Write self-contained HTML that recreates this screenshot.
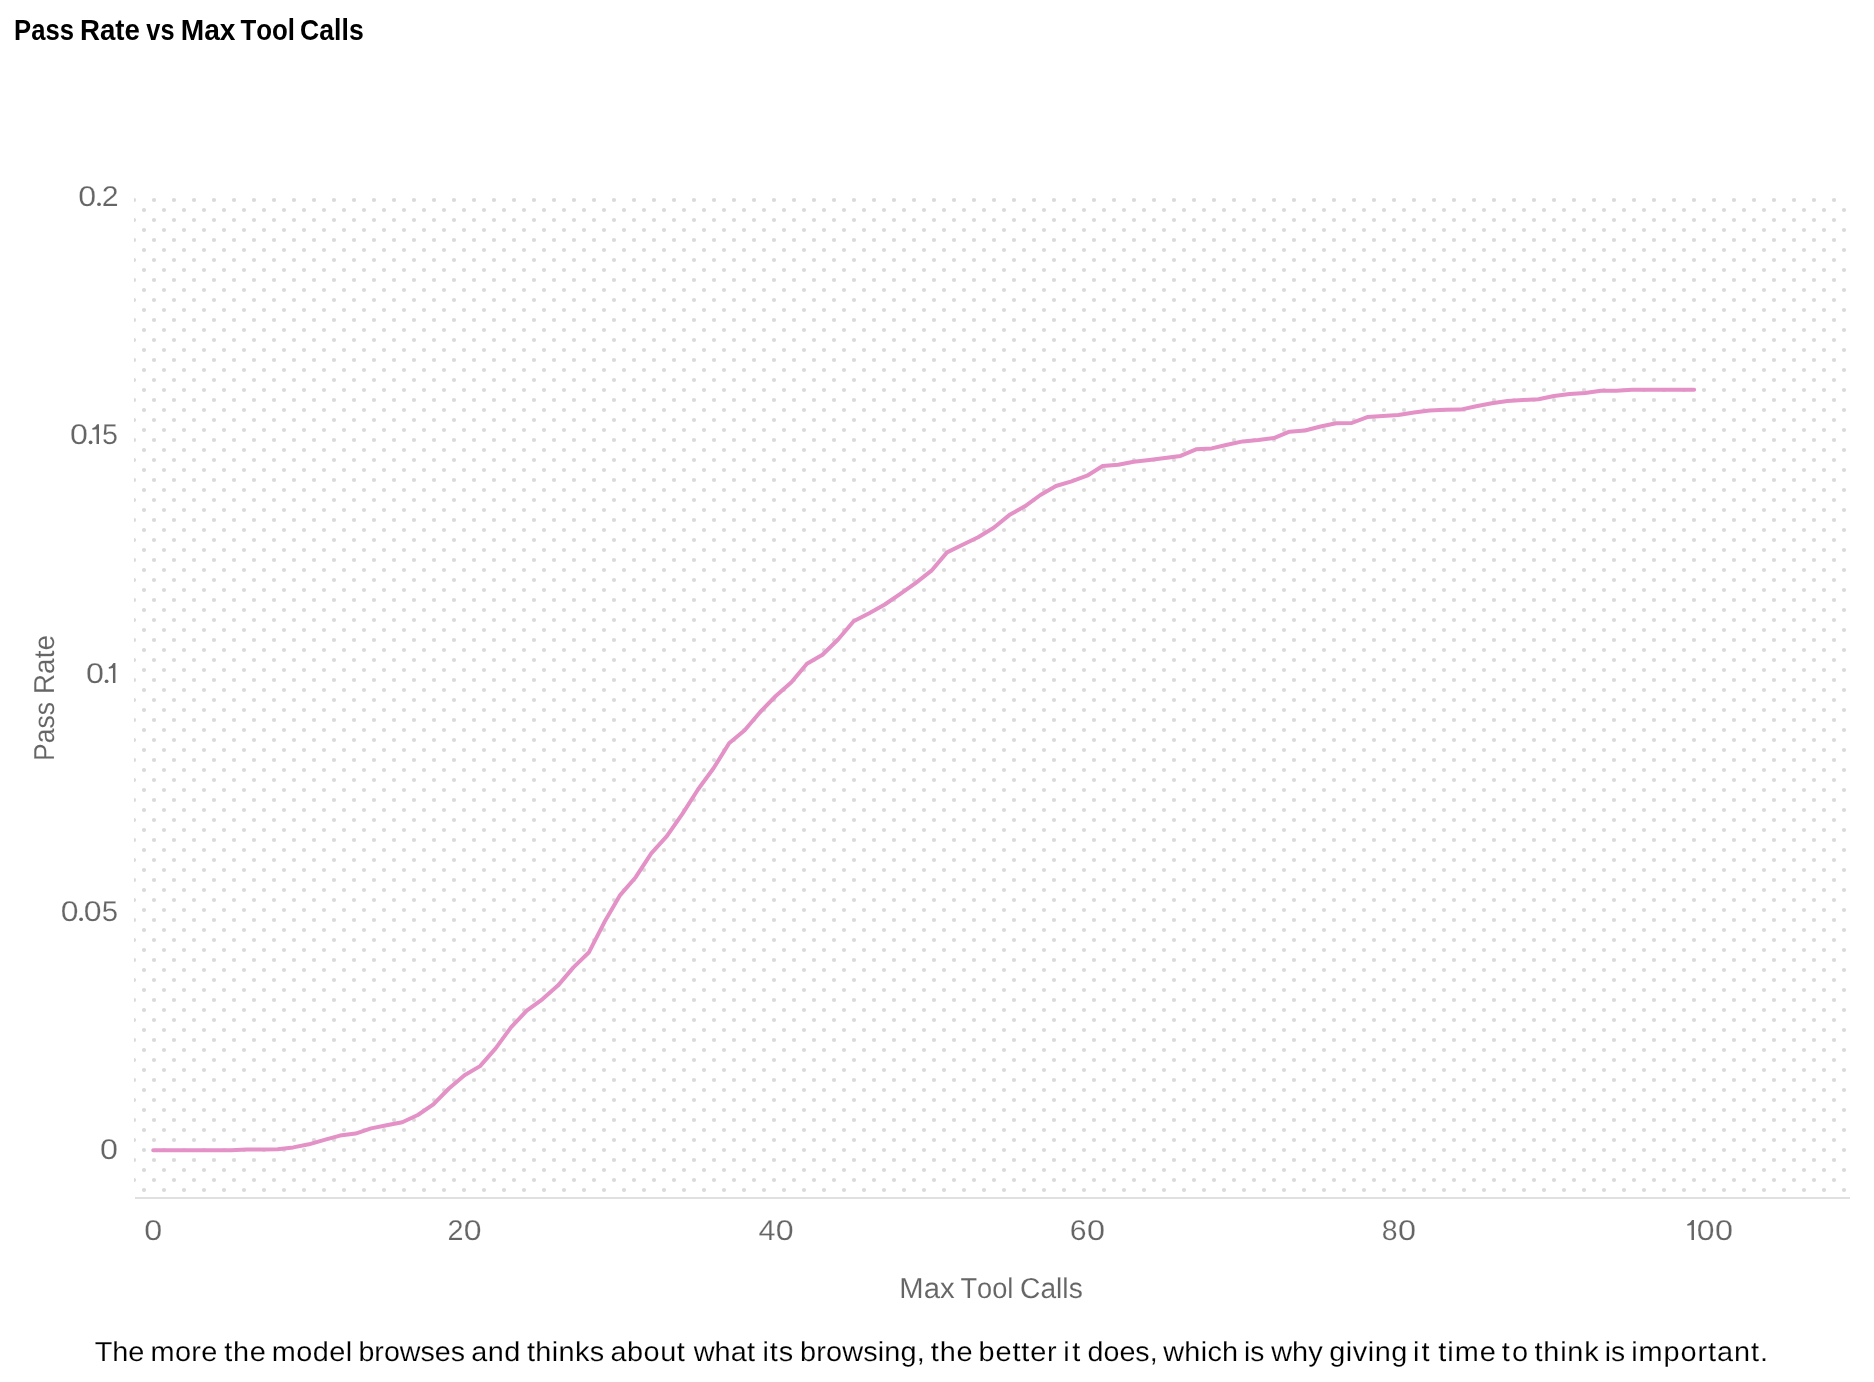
<!DOCTYPE html>
<html lang="en">
<head>
<meta charset="utf-8">
<title>Pass Rate vs Max Tool Calls</title>
<style>
html,body{margin:0;padding:0;background:#ffffff;}
body{width:1874px;height:1382px;overflow:hidden;position:relative;font-family:"Liberation Sans",sans-serif;}
svg{position:absolute;left:0;top:0;display:block;will-change:transform;}
text{font-family:"Liberation Sans",sans-serif;font-kerning:none;font-variant-ligatures:none;white-space:pre;}
.title{font-size:28.7px;font-weight:700;fill:#000000;}
.tick{font-size:28.6px;fill:#656565;stroke:#ffffff;stroke-width:0.2px;stroke-linejoin:round;text-rendering:geometricPrecision;}
.axis{font-size:28.8px;fill:#656565;stroke:#ffffff;stroke-width:0.1px;stroke-linejoin:round;text-rendering:geometricPrecision;}
.caption{font-size:27.5px;fill:#000000;stroke:#ffffff;stroke-width:0.14px;stroke-linejoin:round;text-rendering:geometricPrecision;}
</style>
</head>
<body>
<svg width="1874" height="1382" viewBox="0 0 1874 1382">
<defs>
<pattern id="dots" x="134" y="200" width="20" height="20" patternUnits="userSpaceOnUse">
<circle cx="0" cy="0" r="2.1" fill="#dadada"/>
<circle cx="20" cy="0" r="2.1" fill="#dadada"/>
<circle cx="0" cy="20" r="2.1" fill="#dadada"/>
<circle cx="20" cy="20" r="2.1" fill="#dadada"/>
<circle cx="10" cy="10" r="2.1" fill="#dadada"/>
</pattern>
</defs>
<g id="title">
<text transform="translate(15.80,40.00) scale(0.8932,1)" x="-1.92" y="0" class="title">Pass</text>
<text transform="translate(81.80,40.00) scale(0.9645,1)" x="-1.92" y="0" class="title">Rate</text>
<text transform="translate(146.40,40.00) scale(0.8814,1)" x="-0.11" y="0" class="title">vs</text>
<text transform="translate(182.60,40.00) scale(0.9814,1)" x="-1.92" y="0" class="title">Max</text>
<text transform="translate(240.70,40.00) scale(0.9001,1)" x="-0.32" y="0" class="title">Tool</text>
<text transform="translate(301.20,40.00) scale(0.9269,1)" x="-1.18" y="0" class="title">Calls</text>
</g>
<rect x="134" y="197" width="1716" height="1000" fill="url(#dots)"/>
<rect x="135" y="1197" width="1715" height="2" fill="#e0e0e0"/>
<g id="ticks">
<g role="img" aria-label="0.2">
<text transform="translate(79.55,206.00) scale(1.1264,1)" x="-1.12" y="0" class="tick">0</text>
<circle cx="99.00" cy="204.25" r="1.85" fill="#656565"/>
<text transform="translate(103.20,206.00) scale(1.0592,1)" x="-1.44" y="0" class="tick">2</text>
</g>
<g role="img" aria-label="0.15">
<text transform="translate(71.20,444.10) scale(1.1264,1)" x="-1.12" y="0" class="tick">0</text>
<circle cx="90.60" cy="442.35" r="1.85" fill="#656565"/>
<path transform="translate(99.10,444.10)" fill="#656565" d="M-2.0,-19.9 L-0.1,-19.9 L-0.1,0 L-2.55,0 L-2.55,-14.9 L-6.6,-14.35 L-6.85,-15.8 Q-3.4,-16.7 -2.0,-19.9 Z"/>
<text transform="translate(103.20,444.10) scale(1.0030,1)" x="-1.15" y="0" class="tick">5</text>
</g>
<g role="img" aria-label="0.1">
<text transform="translate(87.30,683.00) scale(1.1301,1)" x="-1.12" y="0" class="tick">0</text>
<circle cx="106.60" cy="681.25" r="1.85" fill="#656565"/>
<path transform="translate(115.50,683.00)" fill="#656565" d="M-2.0,-19.9 L-0.1,-19.9 L-0.1,0 L-2.55,0 L-2.55,-14.9 L-6.6,-14.35 L-6.85,-15.8 Q-3.4,-16.7 -2.0,-19.9 Z"/>
</g>
<g role="img" aria-label="0.05">
<text transform="translate(61.95,921.00) scale(1.1155,1)" x="-1.12" y="0" class="tick">0</text>
<circle cx="81.10" cy="919.25" r="1.85" fill="#656565"/>
<text transform="translate(85.00,921.00) scale(1.1191,1)" x="-1.12" y="0" class="tick">0</text>
<text transform="translate(102.90,921.00) scale(1.0251,1)" x="-1.15" y="0" class="tick">5</text>
</g>
<g role="img" aria-label="0">
<text transform="translate(101.30,1159.00) scale(1.1301,1)" x="-1.12" y="0" class="tick">0</text>
</g>
<g role="img" aria-label="0">
<text transform="translate(145.50,1240.00) scale(1.1301,1)" x="-1.12" y="0" class="tick">0</text>
</g>
<g role="img" aria-label="20">
<text transform="translate(448.90,1240.00) scale(1.0054,1)" x="-1.44" y="0" class="tick">2</text>
<text transform="translate(464.90,1240.00) scale(1.1191,1)" x="-1.12" y="0" class="tick">0</text>
</g>
<g role="img" aria-label="40">
<text transform="translate(759.10,1240.00) scale(1.0686,1)" x="-0.66" y="0" class="tick">4</text>
<text transform="translate(777.00,1240.00) scale(1.1264,1)" x="-1.12" y="0" class="tick">0</text>
</g>
<g role="img" aria-label="60">
<text transform="translate(1071.25,1240.00) scale(1.0571,1)" x="-1.45" y="0" class="tick">6</text>
<text transform="translate(1088.25,1240.00) scale(1.1337,1)" x="-1.12" y="0" class="tick">0</text>
</g>
<g role="img" aria-label="80">
<text transform="translate(1382.90,1240.00) scale(0.9910,1)" x="-1.24" y="0" class="tick">8</text>
<text transform="translate(1399.25,1240.00) scale(1.1337,1)" x="-1.12" y="0" class="tick">0</text>
</g>
<g role="img" aria-label="100">
<path transform="translate(1694.05,1240.00)" fill="#656565" d="M-2.0,-19.9 L-0.1,-19.9 L-0.1,0 L-2.55,0 L-2.55,-14.9 L-6.6,-14.35 L-6.85,-15.8 Q-3.4,-16.7 -2.0,-19.9 Z"/>
<text transform="translate(1698.05,1240.00) scale(1.1155,1)" x="-1.12" y="0" class="tick">0</text>
<text transform="translate(1716.30,1240.00) scale(1.1337,1)" x="-1.12" y="0" class="tick">0</text>
</g>
</g>
<g id="ylabel" transform="translate(54,0) rotate(-90)">
<text transform="translate(-758.80,0.00) scale(0.9204,1)" x="-2.36" y="0" class="axis">Pass</text>
<text transform="translate(-691.80,0.00) scale(0.9704,1)" x="-2.36" y="0" class="axis">Rate</text>
</g>
<g id="xlabel">
<text transform="translate(901.70,1297.90) scale(1.0148,1)" x="-2.36" y="0" class="axis">Max</text>
<text transform="translate(961.00,1297.90) scale(0.9448,1)" x="-0.65" y="0" class="axis">Tool</text>
<text transform="translate(1021.50,1297.90) scale(0.9787,1)" x="-1.46" y="0" class="axis">Calls</text>
</g>
<polyline points="153.20,1150.30 168.76,1150.30 184.33,1150.30 199.89,1150.30 215.46,1150.30 231.02,1150.30 246.59,1149.40 262.15,1149.40 277.72,1149.20 293.28,1147.40 308.85,1144.30 324.41,1139.80 339.98,1135.60 355.54,1133.60 371.11,1128.40 386.67,1125.30 402.24,1122.20 417.81,1115.00 433.37,1104.40 448.94,1088.50 464.50,1075.30 480.06,1066.10 495.63,1048.40 511.19,1027.10 526.76,1010.70 542.33,999.30 557.89,985.60 573.45,967.40 589.02,952.20 604.59,921.80 620.15,895.10 635.71,877.20 651.28,853.30 666.85,836.20 682.41,813.80 697.97,789.50 713.54,768.30 729.11,743.20 744.67,730.30 760.23,712.00 775.80,696.00 791.37,682.30 806.93,663.80 822.49,654.70 838.06,639.50 853.62,621.30 869.19,613.20 884.75,604.50 900.32,593.90 915.88,582.80 931.45,570.70 947.01,552.40 962.58,544.80 978.14,537.20 993.71,527.80 1009.27,515.10 1024.84,506.30 1040.40,495.00 1055.97,486.00 1071.53,481.30 1087.10,475.70 1102.66,466.00 1118.23,464.80 1133.79,461.80 1149.36,459.90 1164.92,457.90 1180.49,455.90 1196.06,449.30 1211.62,448.40 1227.18,444.70 1242.75,441.40 1258.32,440.10 1273.88,438.10 1289.44,431.70 1305.01,430.50 1320.58,426.50 1336.14,423.30 1351.70,423.00 1367.27,417.10 1382.84,416.00 1398.40,415.00 1413.96,412.60 1429.53,410.50 1445.10,409.80 1460.66,409.60 1476.22,406.30 1491.79,403.30 1507.36,401.10 1522.92,400.00 1538.48,399.30 1554.05,396.00 1569.62,394.10 1585.18,393.00 1600.74,390.80 1616.31,390.80 1631.88,389.80 1647.44,389.80 1663.01,389.80 1678.57,389.80 1694.13,389.80" fill="none" stroke="#e391c6" stroke-width="4" stroke-linecap="round" stroke-linejoin="round"/>
<g id="caption">
<text transform="translate(95.30,1360.60) scale(1.0495,1)" x="-0.62" y="0" class="caption">The</text>
<text transform="translate(152.50,1360.60) scale(1.0500,1)" x="-1.83" y="0" letter-spacing="0.290" class="caption">more</text>
<text transform="translate(224.70,1360.60) scale(1.0500,1)" x="-0.42" y="0" letter-spacing="0.705" class="caption">the</text>
<text transform="translate(273.70,1360.60) scale(1.0500,1)" x="-1.83" y="0" letter-spacing="0.406" class="caption">model</text>
<text transform="translate(360.30,1360.60) scale(1.0398,1)" x="-1.77" y="0" class="caption">browses</text>
<text transform="translate(472.50,1360.60) scale(1.0500,1)" x="-1.17" y="0" letter-spacing="0.386" class="caption">and</text>
<text transform="translate(527.40,1360.60) scale(1.0500,1)" x="-0.42" y="0" letter-spacing="0.333" class="caption">thinks</text>
<text transform="translate(611.60,1360.60) scale(1.0500,1)" x="-1.17" y="0" letter-spacing="0.519" class="caption">about</text>
<text transform="translate(693.60,1360.60) scale(1.0500,1)" x="0.04" y="0" letter-spacing="0.088" class="caption">what</text>
<text transform="translate(764.40,1360.60) scale(1.0500,1)" x="-1.84" y="0" letter-spacing="0.857" class="caption">its</text>
<text transform="translate(801.90,1360.60) scale(1.0500,1)" x="-1.77" y="0" letter-spacing="0.140" class="caption">browsing,</text>
<text transform="translate(931.30,1360.60) scale(1.0500,1)" x="-0.42" y="0" letter-spacing="0.705" class="caption">the</text>
<text transform="translate(980.40,1360.60) scale(1.0500,1)" x="-1.77" y="0" letter-spacing="0.820" class="caption">better</text>
<text transform="translate(1065.20,1360.60) scale(1.0500,1)" x="-1.84" y="0" letter-spacing="2.481" class="caption">it</text>
<text transform="translate(1088.80,1360.60) scale(1.0401,1)" x="-1.15" y="0" class="caption">does,</text>
<text transform="translate(1163.20,1360.60) scale(1.0500,1)" x="0.04" y="0" letter-spacing="0.264" class="caption">which</text>
<text transform="translate(1245.80,1360.60) scale(1.0278,1)" x="-1.84" y="0" class="caption">is</text>
<text transform="translate(1271.20,1360.60) scale(1.0500,1)" x="0.04" y="0" letter-spacing="0.031" class="caption">why</text>
<text transform="translate(1330.40,1360.60) scale(1.0500,1)" x="-1.15" y="0" letter-spacing="0.520" class="caption">giving</text>
<text transform="translate(1415.00,1360.60) scale(1.0500,1)" x="-1.84" y="0" letter-spacing="1.815" class="caption">it</text>
<text transform="translate(1438.80,1360.60) scale(1.0500,1)" x="-0.42" y="0" letter-spacing="0.911" class="caption">time</text>
<text transform="translate(1502.30,1360.60) scale(1.0500,1)" x="-0.42" y="0" letter-spacing="1.970" class="caption">to</text>
<text transform="translate(1534.90,1360.60) scale(1.0500,1)" x="-0.42" y="0" letter-spacing="0.762" class="caption">think</text>
<text transform="translate(1606.60,1360.60) scale(1.0278,1)" x="-1.84" y="0" class="caption">is</text>
<text transform="translate(1633.10,1360.60) scale(1.0500,1)" x="-1.84" y="0" letter-spacing="0.898" class="caption">important.</text>
</g>
</svg>
</body>
</html>
